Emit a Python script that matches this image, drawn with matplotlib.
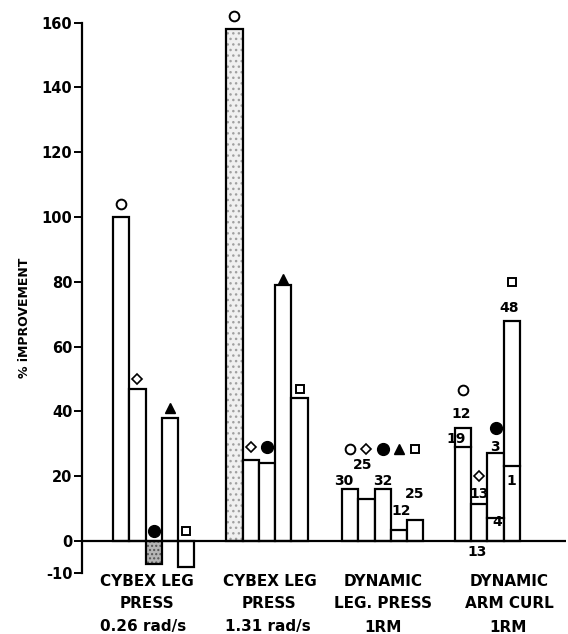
import matplotlib
matplotlib.use("Agg")
import matplotlib.pyplot as plt
import matplotlib.transforms as mtransforms

# ---------------- data ----------------
group_line1 = ["CYBEX LEG", "CYBEX LEG", "DYNAMIC", "DYNAMIC"]
group_line2 = ["PRESS", "PRESS", "LEG. PRESS", "ARM CURL"]
group_line3 = ["0.26 rad/s", "1.31 rad/s", "1RM", "1RM"]

cybex_026 = [100, 47, -7, 38, -8]
cybex_131 = [158, 25, 24, 79, 44]
dyn_leg = [16, 13, 16, 3.5, 6.5]
arm_total = [35, 11.5, 27, 68]
arm_lower = [29, None, 7, 23]

mark_026 = [104, 50, 3, 41, 3]
mark_131 = [162, 29, 29, 81, 47]
mark_leg = [28.5, 28.5, 28.5, 28.5, 28.5]
mark_arm = [46.5, 20, 35, 80]

symbols5 = ["open_circle", "diamond", "filled_circle", "triangle", "square"]
symbols_arm = ["open_circle", "diamond", "filled_circle", "square"]

leg_n = ["30", "25", "32", "12", "25"]
leg_n_y = [18.6, 23.4, 18.6, 9.3, 14.4]
arm_n = ["12", "19", "13", "3", "4", "48", "1", "13"]
arm_n_y = [39.2, 31.6, 14.4, 29.1, 5.9, 72, 18.6, -3.5]

yticks = [-10, 0, 20, 40, 60, 80, 100, 120, 140, 160]

# ---------------- layout ----------------
W, H = 568, 634
fig = plt.figure(figsize=(W / 100, H / 100), dpi=100)
ax = fig.add_axes([82 / W, (H - 573.3) / H, 484 / W, 550.6 / H])
ax.set_xlim(0, 29.7)
ax.set_ylim(-10, 160)

group_start = [1.9, 8.85, 15.95, 22.88]
leg_n_dx = [0.12, 1.29, 2.52, 3.62, 4.48]
arm_n_dx = [0.37, 0.06, 1.47, 2.45, 2.58, 3.31, 3.44, 1.35]

LW = 1.6
plain = dict(facecolor="white", edgecolor="black", linewidth=LW, width=1.0, align="edge")


def draw_marker(x, y, kind):
    if kind == "open_circle":
        ax.plot(x, y, marker="o", ms=7, mfc="white", mec="black", mew=1.4, clip_on=False, zorder=5)
    elif kind == "filled_circle":
        ax.plot(x, y, marker="o", ms=8.5, mfc="black", mec="black", clip_on=False, zorder=5)
    elif kind == "diamond":
        ax.plot(x, y, marker="D", ms=5, mfc="white", mec="black", mew=1.2, clip_on=False, zorder=5)
    elif kind == "triangle":
        ax.plot(x, y, marker="^", ms=7.5, mfc="black", mec="black", clip_on=False, zorder=5)
    elif kind == "square":
        ax.plot(x, y, marker="s", ms=6, mfc="white", mec="black", mew=1.4, clip_on=False, zorder=5)


# group 1
g = group_start[0]
for i, v in enumerate(cybex_026):
    if i == 2:
        ax.bar(g + i, v, width=1.0, align="edge", facecolor="#b5b5b5", edgecolor="#555555",
               hatch="....", linewidth=0)
        ax.bar(g + i, v, width=1.0, align="edge", facecolor="none", edgecolor="black", linewidth=LW)
    else:
        ax.bar(g + i, v, **plain)
    draw_marker(g + i + 0.5, mark_026[i], symbols5[i])

# group 2
g = group_start[1]
for i, v in enumerate(cybex_131):
    if i == 0:
        ax.bar(g + i, v, width=1.0, align="edge", facecolor="#f0f0f0", edgecolor="#a0a0a0",
               hatch="...", linewidth=0)
        ax.bar(g + i, v, width=1.0, align="edge", facecolor="none", edgecolor="black", linewidth=LW)
    else:
        ax.bar(g + i, v, **plain)
    draw_marker(g + i + 0.5, mark_131[i], symbols5[i])

# group 3
g = group_start[2]
for i, v in enumerate(dyn_leg):
    ax.bar(g + i, v, **plain)
    draw_marker(g + i + 0.5, mark_leg[i], symbols5[i])
for t, dx, y in zip(leg_n, leg_n_dx, leg_n_y):
    ax.text(g + dx, y, t, ha="center", va="center", fontsize=10, fontweight="bold")

# group 4
g = group_start[3]
for i, v in enumerate(arm_total):
    ax.bar(g + i, v, **plain)
    if arm_lower[i] is not None:
        ax.plot([g + i, g + i + 1], [arm_lower[i], arm_lower[i]], color="black", lw=LW)
    draw_marker(g + i + 0.5, mark_arm[i], symbols_arm[i])
for t, dx, y in zip(arm_n, arm_n_dx, arm_n_y):
    ax.text(g + dx, y, t, ha="center", va="center", fontsize=10, fontweight="bold", zorder=6)

# zero line
ax.axhline(0, color="black", lw=LW, zorder=4)

# axes styling
for s in ["top", "right", "bottom"]:
    ax.spines[s].set_visible(False)
ax.spines["left"].set_linewidth(LW)
ax.spines["left"].set_bounds(-10, 160)
ax.set_xticks([])
ax.set_yticks(yticks)
ax.set_yticklabels([str(t) for t in yticks], fontsize=10.5, fontweight="bold")
ax.tick_params(axis="y", length=6, width=1.4, pad=1)

# category labels
tr = mtransforms.blended_transform_factory(ax.transData, fig.transFigure)
label_x = [4.0, 11.5, 18.5, 26.2]
label_x3 = [3.75, 11.4, 18.47, 26.13]
for i in range(4):
    ax.text(label_x[i], 1 - 581 / H, group_line1[i], transform=tr, ha="center", va="center",
            fontsize=11, fontweight="bold")
    ax.text(label_x[i], 1 - 603 / H, group_line2[i], transform=tr, ha="center", va="center",
            fontsize=11, fontweight="bold")
    ax.text(label_x3[i], 1 - 627 / H, group_line3[i], transform=tr, ha="center", va="center",
            fontsize=11, fontweight="bold")

fig.text(25 / W, 1 - 318 / H, "% iMPROVEMENT", rotation=90, ha="center", va="center",
         fontsize=9, fontweight="bold")

fig.savefig("out.png", dpi=100)
